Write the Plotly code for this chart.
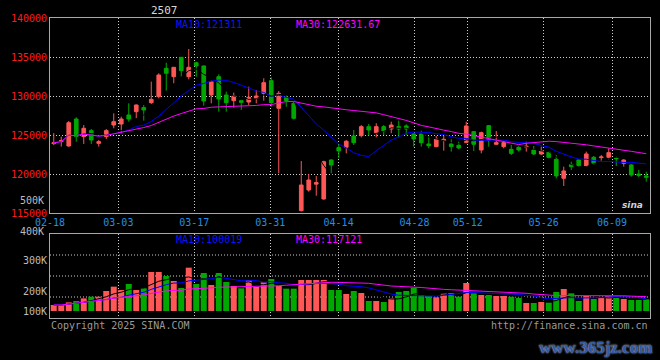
import plotly.graph_objects as go
import pandas as pd

# ---------------- data ----------------
tick_idx = [0, 9, 19, 29, 38, 48, 55, 65, 74]
tick_labels = ["02-18", "03-03", "03-17", "03-31", "04-14", "04-28", "05-12", "05-26", "06-09"]

opens = [123900, 124150, 123590, 127050, 124790, 125560, 123930, 124790, 126280, 126410,
         127570, 127990, 128510, 129150, 129920, 133550, 132480, 134960, 132480, 134270,
         133850, 130130, 132480, 130130, 129400, 129400, 129230, 129700, 130340, 131970,
         128420, 129790, 129060, 115300, 117950, 118700, 116800, 121800, 123380, 123420,
         124870, 124920, 126070, 125300, 126070, 125770, 126070, 126160, 125130, 125130,
         123850, 123510, 124280, 123850, 123680, 124060, 125430, 123080, 126200, 123810,
         123510, 123160, 123420, 123450, 123080, 122570, 122780, 121880, 119450, 121240,
         121800, 121030, 122140, 122100, 122140, 122050, 121370, 121160, 120000, 119750]
highs = [125250, 124790, 126800, 127270, 126280, 125770, 124360, 125770, 127780, 127350,
         129060, 128900, 128850, 131840, 132910, 134270, 133700, 135000, 136030, 134400,
         133900, 131970, 132780, 130560, 130430, 129490, 131200, 130770, 132270, 132390,
         130640, 130130, 129280, 121670, 120000, 119740, 121700, 121850, 123850, 124350,
         125640, 126280, 126410, 126500, 126280, 126710, 126840, 126370, 125220, 125560,
         124870, 124870, 124870, 124450, 124150, 126710, 125510, 125430, 126280, 125510,
         124360, 123720, 123590, 124150, 123590, 123510, 122870, 122440, 120940, 121580,
         121880, 122870, 122310, 122440, 123290, 122220, 121880, 121280, 120520, 120300]
lows = [123700, 123510, 123510, 124150, 123850, 123850, 123510, 124490, 125860, 125220,
        126710, 127140, 126840, 128980, 129700, 130690, 131630, 132480, 132140, 132480,
        128760, 129060, 127990, 127990, 128510, 128210, 128850, 129060, 129400, 128630,
        120090, 128630, 127010, 115200, 117730, 117220, 116700, 120090, 122010, 122650,
        123720, 124700, 124920, 124700, 125000, 125220, 124700, 125000, 123510, 123510,
        123290, 123420, 122990, 122870, 123160, 123930, 122950, 122650, 123510, 123720,
        123290, 122440, 122870, 122870, 122440, 122440, 122010, 119450, 118460, 120520,
        120940, 120940, 121160, 121580, 121880, 121030, 120940, 119660, 119580, 119020]
closes = [124000, 124300, 126580, 124790, 125860, 124360, 124150, 125560, 126710, 127050,
          127050, 128850, 128210, 129570, 132690, 132910, 133680, 133250, 133680, 133850,
          129360, 131840, 129620, 129150, 130000, 129190, 129830, 130000, 131710, 129150,
          130340, 129400, 127140, 118590, 119230, 118900, 121580, 121150, 122970, 124200,
          124020, 126070, 125640, 126070, 125520, 126280, 125770, 125770, 124490, 124020,
          123630, 124490, 124450, 123510, 123340, 126160, 123810, 125300, 124360, 124020,
          124020, 122650, 123080, 123550, 122570, 122950, 122140, 119750, 120390, 120940,
          121070, 122570, 121370, 122180, 122740, 121970, 121800, 119870, 119830, 119580]
volumes = [48000, 48000, 69300, 80000, 101300, 114700, 114700, 160000, 194700, 168000,
           216000, 168000, 181300, 312000, 312000, 280000, 240000, 184000, 346700, 216000,
           304000, 208000, 304000, 232000, 200000, 181300, 248000, 192000, 229300, 256000,
           200000, 178700, 178700, 248000, 248000, 248000, 248000, 168000, 168000, 136000,
           160000, 144000, 80000, 80000, 72000, 101300, 152000, 160000, 186700, 128000,
           120000, 109300, 141300, 144000, 114700, 224000, 141300, 128000, 128000, 120000,
           120000, 114700, 104000, 64000, 64000, 72000, 66700, 152000, 176000, 141300,
           80000, 120000, 96000, 104000, 120000, 106700, 96000, 88000, 88000, 93300]
price_ticks = [115000, 120000, 125000, 130000, 135000, 140000]
vol_tick_text = ["100K", "200K", "300K"]

# ---------------- styles ----------------
UP = "#ff5656"
DOWN = "#00a800"
BLUE_TXT = "#1f8fe8"
GRID = "#cfcfcf"
BORDER = "#a8a8a8"
GRAYTXT = "#bdbdbd"
MONO = "DejaVu Sans Mono"

n = len(closes)
x = list(range(n))
cs = pd.Series(closes, dtype=float)
vs = pd.Series(volumes, dtype=float)
ma = {w: cs.rolling(w, min_periods=1).mean() for w in (5, 10, 30)}
vma = {w: vs.rolling(w, min_periods=1).mean() for w in (5, 10, 30)}
vol_colors = [UP if c >= o else DOWN for o, c in zip(opens, closes)]

# Sina spaces the date grid over n-1 slots while candles use n slots
grid_pos = [k * n / (n - 1) - 0.5 for k in tick_idx]

fig = go.Figure()
fig.add_trace(go.Candlestick(
    x=x, open=opens, high=highs, low=lows, close=closes,
    increasing=dict(line=dict(color=UP, width=1), fillcolor=UP),
    decreasing=dict(line=dict(color=DOWN, width=1), fillcolor=DOWN),
    whiskerwidth=0, xaxis="x", yaxis="y", hoverinfo="skip"))
for w, col in ((5, "#000000"), (10, "#0000ff"), (30, "#ff00ff")):
    fig.add_trace(go.Scatter(x=x, y=ma[w], mode="lines", line=dict(color=col, width=1),
                             xaxis="x", yaxis="y", hoverinfo="skip"))

fig.add_trace(go.Bar(x=x, y=volumes, marker=dict(color=vol_colors, line=dict(width=0)),
                     width=0.8, xaxis="x2", yaxis="y2", hoverinfo="skip"))
for w, col in ((5, "#000000"), (10, "#0000ff"), (30, "#ff00ff")):
    fig.add_trace(go.Scatter(x=x, y=vma[w], mode="lines", line=dict(color=col, width=1),
                             xaxis="x2", yaxis="y2", hoverinfo="skip"))

axis_common = dict(showline=True, mirror=True, linecolor=BORDER, linewidth=1,
                   zeroline=False, ticks="", fixedrange=True)
grid_common = dict(showgrid=True, gridcolor=GRID, gridwidth=1, griddash="1px,2px")

fig.update_layout(
    width=660, height=360,
    margin=dict(l=50, r=10, t=18, b=42, pad=0),
    paper_bgcolor="black", plot_bgcolor="black",
    showlegend=False, hovermode=False,
    font=dict(family=MONO, size=10, color=GRAYTXT),
    xaxis=dict(domain=[0, 1], anchor="y", range=[-0.5, n - 0.5],
               tickmode="array", tickvals=grid_pos, ticktext=tick_labels,
               tickfont=dict(color=BLUE_TXT, size=10, family=MONO),
               rangeslider=dict(visible=False), **axis_common, **grid_common),
    yaxis=dict(domain=[0.35, 1], anchor="x", range=[115000, 140000],
               tickmode="array", tickvals=price_ticks, ticktext=[str(v) for v in price_ticks],
               tickfont=dict(color="#ff1a1a", size=10, family=MONO),
               **axis_common, **grid_common),
    xaxis2=dict(domain=[0, 1], anchor="y2", range=[-0.5, n - 0.5],
                tickmode="array", tickvals=grid_pos, showticklabels=False,
                **axis_common, **grid_common),
    yaxis2=dict(domain=[0, 0.28], anchor="x2", range=[-56000, 616000],
                tickmode="array", tickvals=[0, 160000, 408000], ticktext=vol_tick_text,
                tickfont=dict(color=GRAYTXT, size=10, family=MONO),
                showgrid=False, **axis_common),
)

# horizontal dotted grid of the volume panel
for f in (0.25, 0.5, 0.75):
    fig.add_shape(type="line", xref="x2 domain", yref="y2 domain", x0=0, x1=1, y0=f, y1=f,
                  line=dict(color=GRID, width=1, dash="1px,2px"), layer="below")


def ax(px):
    return (px - 50) / 600


def ay(py):
    return (318 - py) / 300


def note(text, xp, yp, color, xanchor="left", size=10, family=MONO, **kw):
    fig.add_annotation(text=text, x=ax(xp), y=ay(yp), xref="paper", yref="paper",
                       xanchor=xanchor, yanchor="middle", showarrow=False,
                       font=dict(color=color, size=size, family=family, **kw))


note("2507", 164, 10, "#d8d8d8", xanchor="center", size=11)
note("MA10:121311", 174, 24, "#0a14ff")
note("MA30:122631.67", 294, 24, "#ff00ff")
note("MA10:100019", 174, 239, "#0a14ff")
note("MA30:117121", 294, 239, "#ff00ff")
note("500K", 46, 200, GRAYTXT, xanchor="right")
note("400K", 46, 231, GRAYTXT, xanchor="right")
note("Copyright 2025 SINA.COM", 49, 325, "#9a9a9a")
note("http://finance.sina.com.cn", 650, 325, "#9a9a9a", xanchor="right")
note("sina", 632, 205, "#d0d0d0", xanchor="center", size=9, family="DejaVu Sans",
     weight="bold", style="italic")
note("www.365jz.com", 595, 347, "#2f5aa8", xanchor="center", size=17,
     family="Liberation Sans Narrow", weight="bold", shadow="0px 0px 2px #e8eefc")

fig.write_html(
    "out.html",
    config={"displayModeBar": False, "staticPlot": True},
    post_script="document.body.style.margin='0';document.body.style.overflow='hidden';",
)
